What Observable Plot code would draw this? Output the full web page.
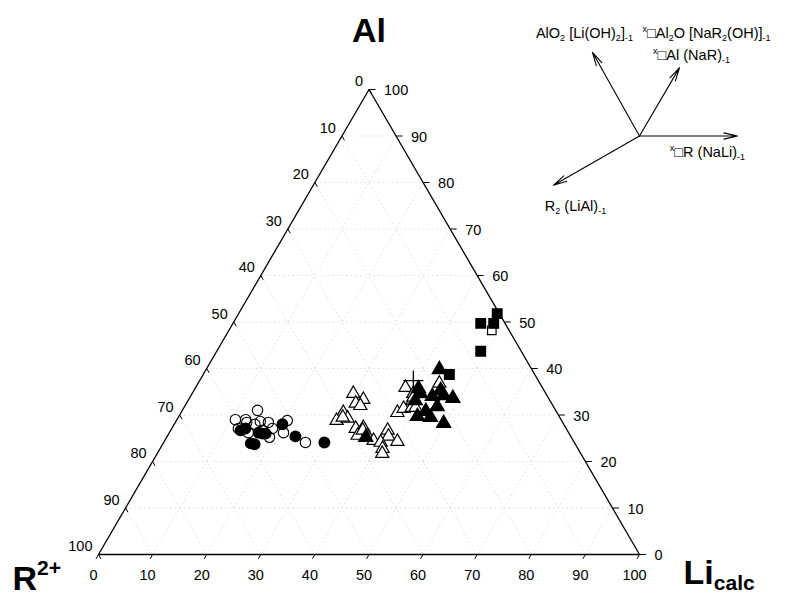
<!DOCTYPE html>
<html><head><meta charset="utf-8">
<script src="https://cdn.jsdelivr.net/npm/d3@7"></script>
<script src="https://cdn.jsdelivr.net/npm/@observablehq/plot@0.6"></script>
<style>body{margin:0;background:#fff}</style>
</head><body><div id="chart"></div>
<script>
// ---- data: ternary compositions as [Li_calc %, Al %] (R2+ = 100 - Li - Al) ----
const tickValues = [0,10,20,30,40,50,60,70,80,90,100];
const gridValues = [10,20,30,40,50,60,70,80,90];

const openCircles = [[13.9,31.0],[10.8,29.0],[12.7,29.0],[13.2,28.4],[14.9,28.0],[17.2,28.4],[20.5,28.8],[21.1,26.2],[19.0,25.2],[26.2,24.1],[12.3,27.1],[14.6,26.2],[17.0,26.7],[18.6,27.1],[15.6,28.6]];
const filledCircles = [[12.9,26.7],[16.5,26.2],[17.9,26.0],[16.2,23.9],[17.0,23.7],[20.0,28.0],[23.7,25.4],[29.7,24.1],[13.6,27.1],[17.3,26.0]];
const openTriangles = [[29.8,34.6],[32.3,33.3],[31.3,32.5],[32.4,32.0],[30.0,30.5],[29.6,28.8],[31.4,29.3],[30.4,29.5],[34.0,27.1],[35.3,27.3],[35.1,25.6],[36.9,25.6],[35.5,26.7],[38.6,24.5],[40.1,26.7],[40.9,25.4],[43.1,24.3],[40.1,24.1],[41.1,22.8],[41.6,21.7],[38.8,35.9],[40.0,30.5],[40.7,31.4],[42.1,31.6],[41.5,33.1],[40.9,34.6],[44.6,36.8],[41.3,33.8],[42.8,31.6]];
const filledTriangles = [[43.1,39.8],[41.3,35.7],[45.6,35.3],[44.7,34.0],[46.7,34.2],[48.7,33.6],[46.7,31.8],[45.1,30.8],[44.1,29.7],[46.6,29.5],[49.7,28.2],[42.0,33.1],[36.8,25.2],[42.2,34.6]];
const filledSquares = [[47.8,51.8],[45.8,49.7],[48.2,49.7],[48.8,43.7],[45.5,38.7]];
const openSquares = [[48.6,48.2]];
const crosses = [[39.5,37.4]];

// exchange vectors of the inset (components in diagram units: horizontal, Al)
const vecDx = [-8.7, 7.4, 18.1, -15.9];
const vecDy = [18.0, 14.7, 0, -10.6];
const vecLabels = ["AlO_{2} [Li(OH)_{2}]_{-1}", "^{x}□Al_{2}O [NaR_{2}(OH)]_{-1}", "^{x}□Al (NaR)_{-1}", "^{x}□R (NaLi)_{-1}", "R_{2} (LiAl)_{-1}"];
const vecLabelOf = [0, 1, 1, 2, 3];

const vertexLabels = ["Al", "R^{2+}", "Li_{calc}"];

// ---- helpers (ternary -> diagram coords) ----
const X = d => d[0] + d[1] / 2;
const Y = d => d[1];
const ox = 100, oy = 90; // inset origin in diagram units

const grid = gridValues.flatMap(k => [
  {x1: k/2, y1: k, x2: 100 - k/2, y2: k},
  {x1: k, y1: 0, x2: 50 + k/2, y2: 100 - k},
  {x1: 100 - k, y1: 0, x2: (100 - k)/2, y2: 100 - k}
]);
const leftPts = tickValues.map(v => ({v, x: (100 - v)/2, y: 100 - v}));
const bottomPts = tickValues.map(v => ({v, x: v, y: 0}));
const rightPts = tickValues.map(v => ({v, x: 100 - v/2, y: v}));
const outline = [[0,0],[100,0],[0,100],[0,0]];
const vecIdx = vecDx.map((_, i) => i);

const font = "Liberation Sans, Arial, Helvetica, sans-serif";
const labelOffsets = [[-8,-19],[27,-34],[12,-12],[-30,16],[22,21]];

const marks = [
  Plot.link(grid, {x1: "x1", y1: "y1", x2: "x2", y2: "y2", stroke: "#d4d4d4", strokeWidth: 0.8, strokeDasharray: "1.5,3"}),
  Plot.line(outline, {x: X, y: Y, stroke: "black", strokeWidth: 1.3}),
  Plot.link(leftPts, {x1: "x", y1: "y", x2: d => d.x + 0.46, y2: d => d.y - 0.93, stroke: "black", strokeWidth: 1}),
  Plot.link(bottomPts, {x1: "x", y1: "y", x2: d => d.x - 0.46, y2: d => d.y - 0.93, stroke: "black", strokeWidth: 1}),
  Plot.link(rightPts, {x1: "x", y1: "y", x2: d => d.x + 1.2, y2: "y", stroke: "black", strokeWidth: 1}),
  Plot.text(leftPts, {x: "x", y: "y", text: d => String(d.v), textAnchor: "end", dx: -6, dy: -8, fontSize: 14.5, fill: "black"}),
  Plot.text(bottomPts, {x: "x", y: "y", text: d => String(d.v), textAnchor: "middle", dx: -5, dy: 21, fontSize: 14.5, fill: "black"}),
  Plot.text(rightPts, {x: "x", y: "y", text: d => String(d.v), textAnchor: "start", dx: 15, dy: 1, fontSize: 14.5, fill: "black"}),
  // data
  Plot.dot(openCircles, {x: X, y: Y, r: 5.2, stroke: "black", fill: "none", strokeWidth: 1.1}),
  Plot.dot(filledCircles, {x: X, y: Y, r: 5.2, fill: "black", stroke: "black"}),
  Plot.dot(openTriangles, {x: X, y: Y, symbol: "triangle", r: 4.9, stroke: "black", fill: "white", strokeWidth: 1.2}),
  Plot.dot(filledTriangles, {x: X, y: Y, symbol: "triangle", r: 5.1, fill: "black", stroke: "black"}),
  Plot.dot(openSquares, {x: X, y: Y, symbol: "square", r: 4.8, stroke: "black", fill: "white", strokeWidth: 1.2}),
  Plot.dot(filledSquares, {x: X, y: Y, symbol: "square", r: 5.3, fill: "black", stroke: "black"}),
  Plot.dot(crosses, {x: X, y: Y, symbol: "plus", r: 6.5, stroke: "black", strokeWidth: 1.3}),
  // inset exchange vectors
  Plot.arrow(vecIdx, {x1: () => ox, y1: () => oy, x2: i => ox + vecDx[i], y2: i => oy + vecDy[i], stroke: "black", strokeWidth: 1.1, headLength: 19, headAngle: 26}),
  ...vecLabels.map((lab, j) => Plot.text([lab], {
    x: () => ox + vecDx[vecLabelOf[j]], y: () => oy + vecDy[vecLabelOf[j]], text: d => d,
    textAnchor: "middle", dx: labelOffsets[j][0], dy: labelOffsets[j][1], fontSize: 14.5, fill: "black"
  })),
  // vertex labels
  Plot.text([vertexLabels[0]], {x: () => 50, y: () => 100, text: d => d, textAnchor: "middle", lineAnchor: "bottom", dy: -48, fontSize: 34, fontWeight: "bold", fill: "black"}),
  Plot.text([vertexLabels[1]], {x: () => 0, y: () => 0, text: d => d, textAnchor: "start", lineAnchor: "bottom", dx: -86, dy: 35, fontSize: 34, fontWeight: "bold", fill: "black"}),
  Plot.text([vertexLabels[2]], {x: () => 100, y: () => 0, text: d => d, textAnchor: "start", lineAnchor: "bottom", dx: 44, dy: 29, fontSize: 34, fontWeight: "bold", fill: "black"})
];

const svg = Plot.plot({
  width: 785, height: 597, margin: 0,
  x: {domain: [0, 100], range: [98, 639], axis: null},
  y: {domain: [0, 100], range: [554, 89], axis: null},
  style: {fontFamily: font, background: "white", color: "black"},
  marks
});
document.getElementById("chart").appendChild(svg);

// rich text: _{sub} and ^{sup} -> tspans
function rich(root) {
  root.querySelectorAll("text").forEach(el => {
    const t = el.textContent;
    if (!/[_^]\{/.test(t)) return;
    const fs = parseFloat(getComputedStyle(el).fontSize) || 12;
    const parts = [];
    const re = /([_^])\{([^}]*)\}|([^_^]+)/g; let m;
    while ((m = re.exec(t))) parts.push(m[3] !== undefined ? {s: m[3], k: 0} : {s: m[2], k: m[1] === "_" ? 1 : -1});
    while (el.firstChild) el.removeChild(el.firstChild);
    let cur = 0;
    for (const p of parts) {
      const ts = document.createElementNS("http://www.w3.org/2000/svg", "tspan");
      const target = p.k === 1 ? 0.2 * fs : p.k === -1 ? -0.42 * fs : 0;
      if (target !== cur) ts.setAttribute("dy", (target - cur).toFixed(2));
      cur = target;
      if (p.k) ts.setAttribute("font-size", (0.62 * fs).toFixed(1));
      ts.textContent = p.s;
      el.appendChild(ts);
    }
  });
}
rich(svg);
</script>
</body></html>
